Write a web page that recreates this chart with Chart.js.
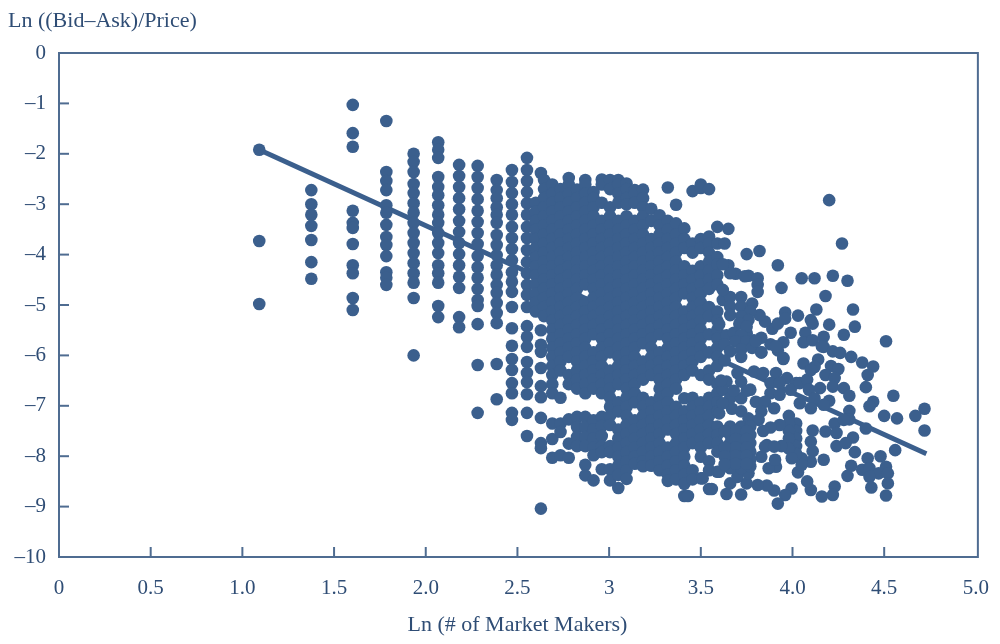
<!DOCTYPE html>
<html>
<head>
<meta charset="utf-8">
<style>
  html, body { margin: 0; padding: 0; background: #fff; }
  canvas { display: block; }
</style>
<script src="https://cdn.jsdelivr.net/npm/chart.js@4"></script>
</head>
<body>
<canvas id="myChart" width="1000" height="644"></canvas>
<script>
// labels
const yTitle = 'Ln ((Bid–Ask)/Price)';
const xTitle = 'Ln (# of Market Makers)';
const xTickLabels = ['0', '0.5', '1.0', '1.5', '2.0', '2.5', '3', '3.5', '4.0', '4.5', '5.0'];
const yTickLabels = ['–10', '–9', '–8', '–7', '–6', '–5', '–4', '–3', '–2', '–1', '0'];

// fitted line, read at both ends
const lineX = [1.092, 4.73];
const lineY = [-1.92, -7.95];

// the clear columns on the left of the cloud
const sparseX = [1.092, 1.376, 1.602, 1.785, 1.934, 2.068, 2.182, 2.283, 2.387, 2.47, 2.552, 2.628];
const sparseY = [
  [-1.92, -3.73, -4.98],
  [-2.72, -3.0, -3.21, -3.43, -3.71, -4.15, -4.48],
  [-1.03, -1.59, -1.86, -3.13, -3.37, -3.47, -3.79, -4.21, -4.37, -4.86, -5.1],
  [-1.35, -2.36, -2.54, -2.72, -3.02, -3.17, -3.41, -3.65, -3.81, -4.03, -4.35, -4.46, -4.6],
  [-2.0, -2.16, -2.36, -2.6, -2.78, -2.98, -3.17, -3.37, -3.57, -3.77, -3.97, -4.17, -4.37, -4.56, -4.86, -6.0],
  [-1.77, -1.92, -2.08, -2.46, -2.66, -2.82, -3.02, -3.21, -3.37, -3.57, -3.77, -3.97, -4.21, -4.37, -4.56, -5.02, -5.24],
  [-2.22, -2.44, -2.66, -2.88, -3.1, -3.33, -3.55, -3.77, -3.99, -4.21, -4.44, -4.66, -5.24, -5.44],
  [-2.24, -2.46, -2.68, -2.9, -3.13, -3.35, -3.57, -3.79, -4.03, -4.25, -4.46, -4.68, -4.9, -5.02, -5.38, -6.19, -7.14],
  [-2.52, -2.72, -2.88, -3.06, -3.21, -3.37, -3.61, -3.81, -4.01, -4.21, -4.4, -4.6, -4.76, -4.96, -5.16, -5.36, -6.17, -6.87],
  [-2.32, -2.56, -2.78, -3.0, -3.21, -3.45, -3.67, -3.89, -4.11, -4.35, -4.54, -4.74, -5.04, -5.46, -5.81, -6.07, -6.29, -6.55, -6.75, -7.14, -7.28],
  [-2.08, -2.32, -2.54, -2.76, -2.98, -3.21, -3.45, -3.67, -3.91, -4.15, -4.37, -4.6, -4.8, -5.04, -5.42, -5.63, -5.83, -6.13, -6.35, -6.53, -6.77, -7.14, -7.6],
  [-2.38, -5.5, -5.79, -5.93, -6.25, -6.61, -6.83, -7.24, -7.74, -7.84, -9.04]
];

const cloudX = [2.6, 2.645, 2.69, 2.735, 2.78, 2.825, 2.87, 2.915, 2.96, 3.005, 3.05, 3.095, 3.14, 3.185, 3.23, 3.275, 3.32, 3.365, 3.41, 3.455, 3.5, 3.545, 3.59];
const cloudY = [
  [-2.97, -3.15, -3.33, -3.51, -3.69, -3.87, -4.05, -4.23, -4.41, -4.59, -4.77, -4.95, -5.13],
  [-2.52, -2.7, -2.88, -3.06, -3.24, -3.42, -3.6, -3.78, -3.96, -4.14, -4.32, -4.5, -4.68, -4.86, -5.04, -5.22],
  [-2.61, -2.79, -2.97, -3.15, -3.33, -3.51, -3.69, -3.87, -4.05, -4.23, -4.41, -4.59, -4.77, -4.95, -5.13, -5.31, -5.49, -5.67, -5.85, -6.03, -6.21, -6.39, -6.57, -6.75, -7.35, -7.66, -8.03],
  [-2.7, -2.88, -3.06, -3.24, -3.42, -3.6, -3.78, -3.96, -4.14, -4.32, -4.5, -4.68, -4.86, -5.04, -5.22, -5.4, -5.58, -5.76, -5.94, -6.12, -6.3, -6.84, -7.35, -7.52, -7.98],
  [-2.48, -2.61, -2.79, -2.97, -3.15, -3.33, -3.51, -3.69, -3.87, -4.05, -4.23, -4.41, -4.59, -4.77, -4.95, -5.13, -5.31, -5.49, -5.67, -5.85, -6.03, -6.39, -6.57, -7.27, -7.75, -8.03],
  [-2.71, -2.88, -3.06, -3.24, -3.42, -3.6, -3.78, -3.96, -4.14, -4.32, -4.5, -4.68, -4.86, -5.04, -5.22, -5.4, -5.58, -5.76, -5.94, -6.12, -6.3, -6.48, -6.66, -7.22, -7.42, -7.62, -7.8],
  [-2.52, -2.61, -2.79, -2.97, -3.15, -3.33, -3.51, -3.69, -3.87, -4.05, -4.23, -4.41, -4.59, -4.95, -5.13, -5.31, -5.49, -5.67, -5.85, -6.03, -6.21, -6.39, -6.57, -6.75, -7.22, -7.42, -7.62, -7.8, -8.17, -8.38],
  [-2.76, -2.88, -3.06, -3.24, -3.42, -3.6, -3.78, -3.96, -4.14, -4.32, -4.5, -4.68, -4.86, -5.04, -5.22, -5.4, -5.58, -5.94, -6.12, -6.3, -6.48, -6.66, -7.29, -7.47, -7.65, -7.83, -7.98, -8.48],
  [-2.51, -2.61, -2.97, -3.33, -3.51, -3.69, -3.87, -4.05, -4.23, -4.41, -4.59, -4.77, -4.95, -5.13, -5.31, -5.49, -5.67, -5.85, -6.03, -6.21, -6.39, -6.57, -6.75, -7.22, -7.4, -7.6, -7.8, -7.92, -8.26],
  [-2.52, -2.7, -3.06, -3.24, -3.42, -3.6, -3.78, -3.96, -4.14, -4.32, -4.5, -4.68, -4.86, -5.04, -5.22, -5.4, -5.58, -5.76, -5.94, -6.3, -6.48, -6.66, -6.84, -7.02, -7.2, -7.38, -7.8, -7.92, -8.26, -8.48],
  [-2.52, -2.61, -2.79, -2.97, -3.33, -3.51, -3.69, -3.87, -4.05, -4.23, -4.41, -4.59, -4.77, -4.95, -5.13, -5.31, -5.49, -5.67, -5.85, -6.03, -6.21, -6.39, -6.57, -6.93, -7.11, -7.47, -7.65, -7.83, -8.01, -8.19, -8.37, -8.63],
  [-2.59, -2.7, -2.88, -3.0, -3.24, -3.42, -3.6, -3.78, -3.96, -4.14, -4.32, -4.5, -4.68, -4.86, -5.04, -5.22, -5.4, -5.58, -5.76, -5.94, -6.12, -6.3, -6.48, -6.66, -6.84, -7.02, -7.2, -7.38, -7.56, -7.74, -7.92, -8.1, -8.28, -8.45],
  [-2.72, -2.79, -2.97, -3.33, -3.51, -3.69, -3.87, -4.05, -4.23, -4.41, -4.59, -4.77, -4.95, -5.13, -5.31, -5.49, -5.67, -5.85, -6.03, -6.21, -6.39, -6.57, -6.75, -6.93, -7.29, -7.47, -7.65, -7.83, -8.01, -8.15],
  [-2.71, -2.88, -3.06, -3.24, -3.42, -3.6, -3.78, -3.96, -4.14, -4.32, -4.5, -4.68, -4.86, -5.04, -5.22, -5.4, -5.58, -5.76, -6.12, -6.3, -6.48, -6.84, -7.02, -7.2, -7.38, -7.56, -7.74, -7.92, -8.1, -8.2],
  [-3.09, -3.33, -3.69, -3.87, -4.05, -4.23, -4.41, -4.59, -4.77, -4.95, -5.13, -5.31, -5.49, -5.67, -5.85, -6.03, -6.21, -6.39, -6.93, -7.11, -7.29, -7.47, -7.65, -7.83, -8.01, -8.19],
  [-3.22, -3.42, -3.6, -3.78, -3.96, -4.14, -4.32, -4.5, -4.68, -4.86, -5.04, -5.22, -5.4, -5.58, -5.94, -6.12, -6.3, -6.48, -6.66, -6.84, -7.02, -7.2, -7.38, -7.56, -7.74, -7.92, -8.1, -8.28],
  [-2.67, -3.33, -3.51, -3.69, -3.87, -4.05, -4.23, -4.41, -4.59, -4.77, -4.95, -5.13, -5.31, -5.49, -5.67, -5.85, -6.03, -6.21, -6.39, -6.57, -6.75, -6.93, -7.11, -7.29, -7.47, -7.83, -8.01, -8.19, -8.37, -8.49],
  [-3.01, -3.38, -3.6, -3.78, -3.96, -4.14, -4.32, -4.5, -4.68, -4.86, -5.04, -5.22, -5.4, -5.58, -5.76, -5.94, -6.12, -6.3, -6.48, -6.66, -7.02, -7.2, -7.38, -7.56, -7.74, -7.92, -8.1, -8.28, -8.46],
  [-3.48, -3.69, -3.87, -4.23, -4.41, -4.59, -4.77, -5.13, -5.31, -5.49, -5.67, -5.85, -6.03, -6.21, -6.39, -6.85, -7.11, -7.29, -7.47, -7.65, -7.83, -8.01, -8.19, -8.37, -8.55, -8.79],
  [-2.74, -3.78, -3.96, -4.32, -4.5, -4.68, -4.86, -5.04, -5.22, -5.4, -5.58, -5.76, -5.94, -6.12, -6.3, -6.84, -7.02, -7.2, -7.38, -7.56, -7.74, -8.28, -8.46],
  [-2.61, -2.68, -3.69, -3.87, -4.23, -4.41, -4.59, -4.77, -4.95, -5.13, -5.31, -5.49, -5.67, -5.85, -6.03, -6.39, -6.93, -7.11, -7.29, -7.47, -7.65, -7.83, -8.01, -8.44],
  [-2.7, -3.64, -3.78, -3.96, -4.14, -4.32, -4.5, -4.68, -5.04, -5.22, -5.58, -5.94, -6.3, -6.48, -6.84, -7.02, -7.2, -7.38, -7.56, -7.74, -8.1, -8.28, -8.65],
  [-3.45, -3.78, -4.05, -4.19, -4.41, -4.59, -5.13, -5.31, -5.49, -5.67, -5.85, -6.03, -6.21, -6.57, -6.75, -6.93, -7.11, -7.41, -7.58, -7.74, -7.91, -8.31]
];

// single dots on the right, readable one at a time: x, y
const loosePoints = [
  [3.65, -3.49], [3.63, -3.78], [3.65, -4.21], [3.69, -4.38], [3.66, -4.37], [3.76, -4.42], [3.74, -4.43], [3.62, -4.19],
  [3.75, -3.99], [3.82, -3.93], [3.92, -4.21], [4.05, -4.47], [4.12, -4.47], [4.22, -4.42], [4.30, -4.52], [3.94, -4.66],
  [4.20, -2.92], [4.27, -3.78], [4.18, -4.82], [4.13, -5.09], [4.33, -5.09], [4.20, -5.39], [4.34, -5.43], [4.28, -5.59],
  [4.51, -5.72], [3.99, -5.55], [3.96, -5.15], [4.03, -5.21], [4.10, -5.30], [4.07, -5.55], [4.11, -5.37], [4.06, -5.74],
  [4.11, -5.70], [4.17, -5.63], [4.17, -5.83], [4.22, -5.92], [4.26, -5.95], [4.32, -6.03], [4.38, -6.14], [4.44, -6.22],
  [4.14, -6.08], [4.06, -6.16], [4.21, -6.21], [4.25, -6.27], [4.12, -6.23], [3.95, -5.74], [3.88, -5.78], [3.92, -5.90],
  [3.95, -6.07], [3.83, -5.65], [3.83, -5.94], [3.79, -5.70], [3.75, -5.56], [3.89, -5.47], [3.92, -5.37], [3.96, -5.27],
  [3.85, -5.33], [3.82, -5.20], [3.60, -5.38], [3.81, -4.47], [3.81, -4.6], [3.81, -4.74], [3.62, -4.9], [3.66, -4.84],
  [3.72, -4.84], [3.78, -4.97], [3.62, -4.70], [3.66, -5.03], [3.72, -5.03], [3.77, -5.13], [3.66, -5.2], [3.72, -5.23],
  [3.76, -5.3], [3.71, -5.37], [3.75, -5.43], [3.64, -5.6], [3.68, -5.55], [3.72, -5.6], [3.63, -5.78], [3.69, -5.72],
  [3.75, -5.72], [3.66, -5.92], [3.72, -5.88], [3.63, -6.1], [3.72, -6.03], [3.78, -5.85], [3.91, -5.82], [3.80, -5.72],
  [4.16, -5.82], [4.41, -6.39], [4.40, -6.63], [4.18, -6.39], [4.23, -6.45], [4.22, -6.62], [4.28, -6.65], [4.31, -6.80],
  [4.55, -6.80], [4.44, -6.92], [4.42, -7.01], [4.72, -7.06], [4.67, -7.2], [4.50, -7.2], [4.57, -7.25], [4.72, -7.49],
  [4.20, -6.9], [4.31, -7.1], [4.31, -7.27], [4.23, -7.35], [4.40, -7.45], [4.28, -7.28], [4.11, -7.49], [4.18, -7.51],
  [4.24, -7.54], [4.10, -7.71], [4.24, -7.8], [4.33, -7.63], [4.29, -7.74], [4.34, -7.92], [4.56, -7.88], [4.11, -7.9],
  [4.17, -8.07], [4.10, -8.11], [4.05, -8.04], [4.48, -8.0], [4.41, -8.04], [4.51, -8.21], [4.32, -8.19], [4.30, -8.39],
  [4.38, -8.27], [4.42, -8.24], [4.47, -8.34], [4.52, -8.34], [4.42, -8.41], [4.52, -8.54], [4.43, -8.62], [4.51, -8.78],
  [4.23, -8.6], [4.22, -8.77], [4.16, -8.8], [4.10, -8.67], [4.08, -8.5], [4.03, -8.32], [4.05, -8.17], [3.995, -8.64],
  [3.96, -8.77], [3.92, -8.94], [3.90, -8.68], [3.86, -8.58], [3.81, -8.57], [3.75, -8.54], [3.72, -8.76], [3.64, -8.75],
  [3.66, -8.54], [3.56, -8.65], [3.43, -8.79], [3.51, -8.44], [3.60, -8.31], [3.70, -8.41], [3.76, -8.34], [3.91, -8.21],
  [3.87, -8.24], [3.83, -8.01], [3.86, -7.78], [3.905, -8.07], [4.02, -7.35], [4.02, -7.5], [4.02, -7.65], [4.02, -7.8],
  [4.02, -7.95], [3.98, -7.2], [3.98, -7.35], [3.98, -7.5], [3.98, -7.65], [3.98, -7.85], [3.94, -7.8], [3.996, -8.04],
  [3.93, -7.38], [3.88, -7.43], [3.84, -7.5], [3.83, -5.94], [3.95, -6.05], [3.79, -6.32], [3.84, -6.35], [3.91, -6.35],
  [3.97, -6.45], [4.02, -6.55], [3.70, -6.35], [3.72, -6.52], [3.77, -6.68], [3.88, -6.55], [3.93, -6.55], [3.88, -6.75],
  [3.93, -6.78], [3.99, -6.68], [4.04, -6.55], [4.08, -6.48], [4.10, -6.29], [4.09, -6.68], [4.15, -6.65], [4.12, -6.85],
  [4.10, -7.05], [4.04, -6.95], [4.17, -6.98], [3.80, -6.92], [3.85, -6.92], [3.90, -7.05], [3.83, -7.11], [3.67, -7.06],
  [3.72, -7.11], [3.76, -7.25], [3.815, -7.28], [3.64, -6.52], [3.62, -6.68], [3.61, -6.5], [3.6, -7.15], [3.66, -7.41],
  [3.72, -7.41], [3.77, -7.41], [3.66, -7.58], [3.72, -7.58], [3.77, -7.58], [3.66, -7.74], [3.72, -7.74], [3.77, -7.74],
  [3.66, -7.91], [3.72, -7.91], [3.77, -7.91], [3.66, -8.07], [3.72, -8.07], [3.77, -8.07], [3.66, -8.24], [3.72, -8.24],
  [3.77, -8.2], [3.66, -6.85], [3.72, -6.85], [3.75, -6.7], [3.68, -6.7], [3.62, -6.95], [3.85, -7.81], [3.9, -7.81],
  [3.69, -7.5], [3.75, -7.5], [3.69, -7.66], [3.75, -7.66], [3.69, -7.83], [3.75, -7.83], [3.69, -7.99], [3.75, -7.99],
  [3.69, -8.15], [3.75, -8.15], [3.63, -7.5], [3.63, -7.83], [3.63, -8.0], [3.63, -8.16]
];

let dotData = [];
sparseX.forEach((x, i) => { sparseY[i].forEach(y => dotData.push({ x: x, y: y })); });
cloudX.forEach((x, i) => { cloudY[i].forEach(y => dotData.push({ x: x, y: y })); });
loosePoints.forEach(p => dotData.push({ x: p[0], y: p[1] }));

const lineData = lineX.map((x, i) => ({ x: x, y: lineY[i] }));

const dotColor = '#3b5f8d';
const textColor = '#2f4d75';
const axisColor = '#4f6c91';
const fontFamily = '"Liberation Serif", serif';

// box round the plot, inward ticks and the title over the y axis
const framePlugin = {
  id: 'frame',
  afterDraw: (chart) => {
    const ctx = chart.ctx;
    const area = chart.chartArea;
    ctx.save();
    ctx.strokeStyle = axisColor;
    ctx.lineWidth = 2;
    // the printed frame runs a little past the 5.0 position
    ctx.strokeRect(area.left, area.top, area.right + 2 - area.left, area.bottom - area.top);
    chart.scales.x.ticks.forEach((t) => {
      if (t.value <= 0 || t.value >= 5) return;
      const px = chart.scales.x.getPixelForValue(t.value);
      ctx.beginPath();
      ctx.moveTo(px, area.bottom);
      ctx.lineTo(px, area.bottom - 10);
      ctx.stroke();
    });
    chart.scales.y.ticks.forEach((t) => {
      if (t.value <= -10 || t.value >= 0) return;
      const py = chart.scales.y.getPixelForValue(t.value);
      ctx.beginPath();
      ctx.moveTo(area.left, py);
      ctx.lineTo(area.left + 10, py);
      ctx.stroke();
    });
    ctx.fillStyle = textColor;
    ctx.font = '22px ' + fontFamily;
    ctx.textAlign = 'left';
    ctx.textBaseline = 'middle';
    ctx.fillText(yTitle, 8, 21);
    ctx.restore();
  }
};

const ctx = document.getElementById('myChart');

new Chart(ctx, {
  type: 'scatter',
  data: {
    datasets: [
      {
        label: 'Dots',
        data: dotData,
        backgroundColor: dotColor,
        borderColor: dotColor,
        pointRadius: 6.3,
        pointBorderWidth: 0
      },
      {
        label: 'Fit',
        data: lineData,
        showLine: true,
        borderColor: dotColor,
        borderWidth: 5,
        pointRadius: 0
      }
    ]
  },
  options: {
    responsive: false,
    animation: false,
    layout: { padding: { top: 53, right: 22, left: 0, bottom: 0 } },
    plugins: { legend: { display: false }, tooltip: { enabled: false } },
    scales: {
      x: {
        type: 'linear',
        min: 0,
        max: 5,
        afterFit: (scale) => { scale.height = 87; },
        grid: { display: false },
        border: { display: false },
        ticks: {
          stepSize: 0.5,
          maxRotation: 0,
          padding: 11,
          color: textColor,
          font: { family: fontFamily, size: 21 },
          callback: (value, index) => xTickLabels[index]
        },
        title: {
          display: true,
          text: xTitle,
          color: textColor,
          font: { family: fontFamily, size: 22 },
          padding: { top: 10, bottom: 6 }
        }
      },
      y: {
        type: 'linear',
        min: -10,
        max: 0,
        afterFit: (scale) => { scale.width = 59; },
        grid: { display: false },
        border: { display: false },
        ticks: {
          stepSize: 1,
          padding: 5,
          color: textColor,
          font: { family: fontFamily, size: 21 },
          callback: (value, index) => yTickLabels[index]
        }
      }
    }
  },
  plugins: [framePlugin]
});
</script>
</body>
</html>
